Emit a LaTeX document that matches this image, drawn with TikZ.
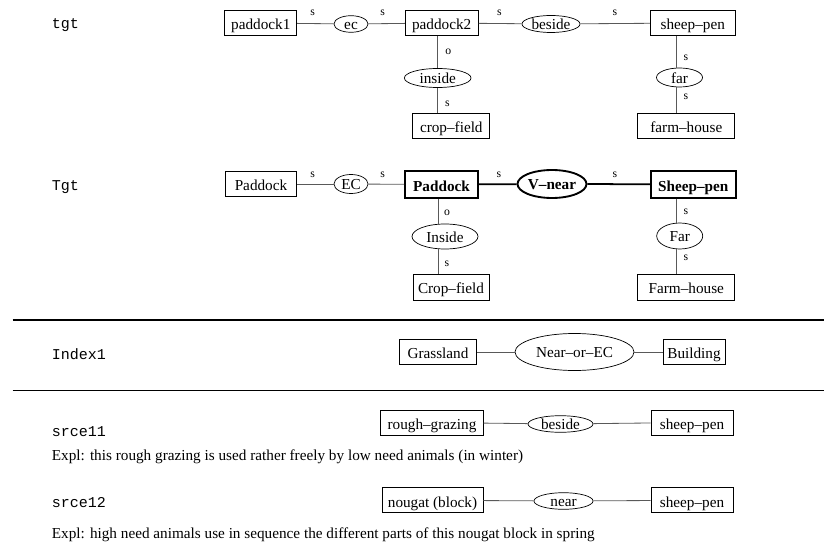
\documentclass[tikz,border=0pt]{standalone}
\usepackage{fontspec}
\setmainfont{Liberation Serif}
\setmonofont{Liberation Mono}
\usetikzlibrary{shapes.geometric}

\begin{document}
\begin{tikzpicture}[x=0.03cm,y=-0.03cm,
  every node/.style={font=\fontsize{13}{15}\selectfont},
  box/.style={draw,line width=0.6pt,inner sep=0pt,minimum height=0.75cm,
    text height=11.5pt,text depth=0pt},
  rel/.style={draw,ellipse,line width=0.6pt,inner sep=0pt,text height=10pt,text depth=0pt},
  bbox/.style={box,line width=1.6pt,font=\fontsize{13}{15}\selectfont\bfseries},
  brel/.style={rel,line width=1.6pt,font=\fontsize{13}{15}\selectfont\bfseries},
  lbl/.style={inner sep=0pt,font=\fontsize{10}{12}\selectfont},
  tag/.style={anchor=west,inner sep=0pt,font=\fontsize{12.8}{14}\selectfont\ttfamily},
  expl/.style={anchor=west,inner sep=0pt,font=\fontsize{13}{15}\selectfont},
  link/.style={draw=black!65,line width=0.7pt},
  blink/.style={draw=black,line width=1.5pt}]
\useasboundingbox (0,0) rectangle (824,544);

% tgt
\node[tag] (tgt) at (51.7,25) {tgt};
\node[box,minimum width=2.16cm] (pdka) at (260.8,23) {paddock1};
\node[rel,minimum width=1.02cm,minimum height=0.48cm] (eca) at (351,24) {ec};
\node[box,minimum width=2.19cm] (pdkb) at (441.7,23) {paddock2};
\node[rel,minimum width=1.74cm,minimum height=0.51cm] (besa) at (551,24) {beside};
\node[box,minimum width=2.55cm] (pena) at (692.8,23) {sheep--pen};
\node[rel,minimum width=2.0cm,minimum height=0.57cm] (insa) at (437.7,78) {inside};
\node[box,minimum width=2.31cm] (cropa) at (451.3,126) {crop--field};
\node[rel,minimum width=1.38cm,minimum height=0.57cm] (fara) at (679.5,77.5) {far};
\node[box,minimum width=2.91cm] (farma) at (686.3,126) {farm--house};
\draw[link] (pdka) -- (eca);
\draw[link] (eca) -- (pdkb);
\draw[link] (pdkb) -- (besa);
\draw[link] (besa) -- (pena);
\draw[link] (pdkb.south -| insa) -- (insa.north);
\draw[link] (insa.south) -- (insa.south |- cropa.north);
\draw[link] (pena.south -| 676.7,0) -- (fara.north -| 676.7,0);
\draw[link] (fara.south -| 676.7,0) -- (farma.north -| 676.7,0);
\foreach \x/\y/\t [count=\i] in {312.7/13.3/s,382.7/13.3/s,499.3/13.3/s,615/13.3/s,
    448.3/51.7/o,447.3/104/s,686/58.3/s,686/96.7/s}
  \node[lbl] (la\i) at (\x,\y) {\t};

% Tgt
\node[tag] (Tgt) at (51.7,187) {Tgt};
\node[box,minimum width=2.15cm] (pdkc) at (261,184) {Paddock};
\node[rel,minimum width=1.02cm,minimum height=0.57cm] (ecb) at (351,184) {EC};
\node[bbox,minimum width=2.19cm,minimum height=0.8cm] (pdkd) at (441.5,184.5) {Paddock};
\node[brel,minimum width=2.07cm,minimum height=0.84cm] (vnear) at (552,184) {V--near};
\node[bbox,minimum width=2.55cm,minimum height=0.8cm] (penb) at (693.3,184.3) {Sheep--pen};
\node[rel,minimum width=1.98cm,minimum height=0.75cm] (insb) at (445,236.5) {Inside};
\node[box,minimum width=2.28cm,minimum height=0.78cm] (cropb) at (451,287) {Crop--field};
\node[rel,minimum width=1.38cm,minimum height=0.78cm] (farb) at (679.7,236) {Far};
\node[box,minimum width=2.91cm,minimum height=0.78cm] (farmb) at (686.3,287) {Farm--house};
\draw[link] (pdkc) -- (ecb);
\draw[link] (ecb) -- (pdkd);
\draw[blink] (pdkd) -- (vnear);
\draw[blink] (vnear) -- (penb);
\draw[link] (pdkd.south -| 438,0) -- (insb.north -| 438,0);
\draw[link] (insb.south -| 438,0) -- (cropb.north -| 438,0);
\draw[link] (penb.south -| 676.7,0) -- (farb.north -| 676.7,0);
\draw[link] (farb.south -| 676.7,0) -- (farmb.north -| 676.7,0);
\foreach \x/\y/\t [count=\i] in {312.7/175/s,382.7/175/s,499/175/s,615/175/s,
    447/213/o,447/264/s,686/212/s,686/258/s}
  \node[lbl] (lb\i) at (\x,\y) {\t};

% Index1
\coordinate (ruleal) at (12.7,320);
\coordinate (rulear) at (824,320);
\coordinate (rulebl) at (12.7,390.7);
\coordinate (rulebr) at (824,390.7);
\draw[line width=0.9pt] (ruleal) -- (rulear);
\draw[line width=0.9pt] (rulebl) -- (rulebr);
\node[tag] (idx) at (51.7,354) {Index1};
\node[box,minimum width=2.33cm] (grass) at (438,352) {Grassland};
\node[rel,minimum width=3.57cm,minimum height=1.11cm] (nearec) at (574.5,352) {Near--or--EC};
\node[box,minimum width=1.86cm] (bldg) at (694,352) {Building};
\draw[link] (grass) -- (nearec);
\draw[link] (nearec) -- (bldg);

% srce11 / srce12
\node[tag] (srca) at (51.7,432) {srce11};
\node[expl] (expla) at (51.7,457) {Expl: this rough grazing is used rather freely by low need animals (in winter)};
\node[box,minimum width=3.08cm] (rough) at (432,422.5) {rough--grazing};
\node[rel,minimum width=1.95cm,minimum height=0.45cm] (besb) at (560.5,424) {beside};
\node[box,minimum width=2.46cm] (penc) at (692,422.5) {sheep--pen};
\draw[link] (rough) -- (besb);
\draw[link] (besb) -- (penc);

\node[tag] (srcb) at (51.7,503) {srce12};
\node[expl] (explb) at (51.7,535) {Expl: high need animals use in sequence the different parts of this nougat block in spring};
\node[box,minimum width=3.03cm] (nougat) at (432.5,500.3) {nougat (block)};
\node[rel,minimum width=1.77cm,minimum height=0.48cm] (nearb) at (563.5,501) {near};
\node[box,minimum width=2.46cm] (pend) at (692,500.3) {sheep--pen};
\draw[link] (nougat) -- (nearb);
\draw[link] (nearb) -- (pend);
\end{tikzpicture}
\end{document}
